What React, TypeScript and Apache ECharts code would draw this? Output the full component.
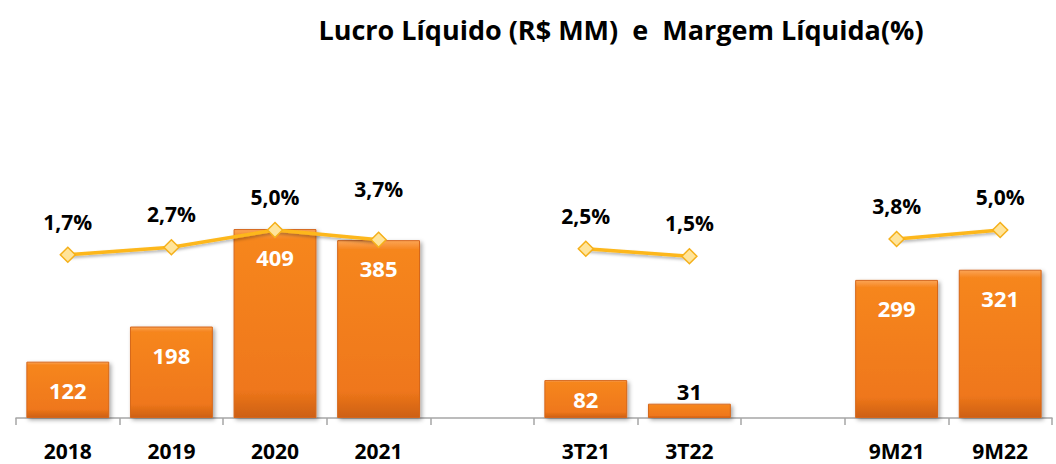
import React, { useEffect, useRef } from "react";
import * as echarts from "echarts";

const categories = ["2018", "2019", "2020", "2021", "", "3T21", "3T22", "", "9M21", "9M22"];
const lucro: (number | null)[] = [122, 198, 409, 385, null, 82, 31, null, 299, 321];
const margem: (number | null)[] = [1.7, 2.7, 5.0, 3.7, null, 2.5, 1.5, null, 3.8, 5.0];
const titleText = "Lucro Líquido (R$ MM)  e  Margem Líquida(%)";

const FONT = "Open Sans";

export default function App() {
  const ref = useRef<HTMLDivElement>(null);
  useEffect(() => {
    if (!ref.current) return;
    const chart = echarts.init(ref.current, null, { renderer: "svg" });
    const barGrad = new echarts.graphic.LinearGradient(0, 0, 0, 1, [
      { offset: 0, color: "#FBA455" },
      { offset: 0.05, color: "#F6861F" },
      { offset: 0.85, color: "#EF771B" },
      { offset: 1, color: "#CD6012" },
    ]);
    const barData = lucro.map((v) => {
      if (v === null) return null;
      let label: any = {};
      if (v < 50) {
        label = { position: "top", color: "#000", distance: 2 };
      } else if (v < 100) {
        label = { position: "inside" };
      }
      return { value: v, label };
    });
    const lineData = margem.map((v, i) => {
      if (v === null) return null;
      const extra = i === 3 ? { label: { distance: 32 } } : {};
      return { value: v, ...extra };
    });
    chart.setOption({
      animation: false,
      title: {
        text: titleText,
        left: 616,
        textAlign: "center",
        top: 11,
        textStyle: { fontFamily: FONT, fontWeight: "bold", fontSize: 27, color: "#000" },
      },
      grid: { left: 16, right: 4, top: 60, bottom: 46 },
      xAxis: {
        type: "category",
        data: categories,
        axisLine: { lineStyle: { color: "#A6A6A6", width: 1.5 } },
        axisTick: { show: true, length: 7, lineStyle: { color: "#A6A6A6", width: 1.5 } },
        axisLabel: {
          interval: 0,
          margin: 22,
          fontFamily: FONT,
          fontWeight: "bold",
          fontSize: 21,
          color: "#000",
        },
      },
      yAxis: [
        { type: "value", min: 0, max: 775, show: false, splitLine: { show: false } },
        { type: "value", min: -20.07, max: 27.67, show: false, splitLine: { show: false } },
      ],
      series: [
        {
          type: "bar",
          data: barData,
          barWidth: "80%",
          itemStyle: {
            color: barGrad,
            borderColor: "#D5661A",
            borderWidth: 1,
            shadowColor: "rgba(0,0,0,0.35)",
            shadowBlur: 4,
            shadowOffsetX: 2,
            shadowOffsetY: 2,
          },
          label: {
            show: true,
            position: "insideTop",
            distance: 17,
            color: "#fff",
            fontFamily: FONT,
            fontWeight: "bold",
            fontSize: 22,
          },
        },
        {
          type: "line",
          yAxisIndex: 1,
          data: lineData,
          connectNulls: false,
          symbol: "diamond",
          symbolSize: 15,
          lineStyle: {
            color: "#FDB71A",
            width: 3.5,
            shadowColor: "rgba(0,0,0,0.3)",
            shadowBlur: 3,
            shadowOffsetY: 2,
          },
          itemStyle: { color: "#FFE49A", borderColor: "#F5B01A", borderWidth: 1.5 },
          label: {
            show: true,
            position: "top",
            distance: 14,
            color: "#000",
            fontFamily: FONT,
            fontWeight: "bold",
            fontSize: 21,
            formatter: (p: any) => p.value.toFixed(1).replace(".", ",") + "%",
          },
          z: 5,
        },
      ],
    });
    return () => chart.dispose();
  }, []);
  return <div ref={ref} style={{ width: 1056, height: 464, position: "absolute", left: 0, top: 0 }} />;
}
